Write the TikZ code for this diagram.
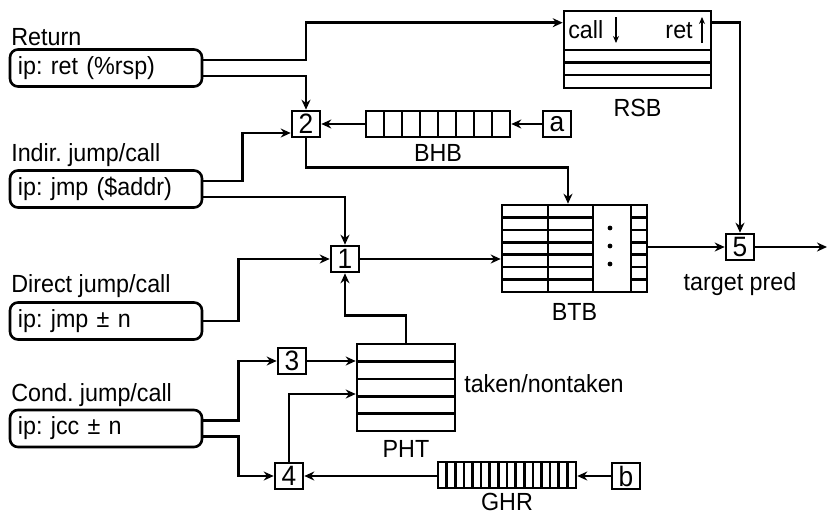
\documentclass[tikz,border=0pt]{standalone}
\usepackage{fontspec}
\setmainfont{Liberation Sans}[FakeStretch=0.94]
\usetikzlibrary{arrows.meta, positioning}
\frenchspacing

\begin{document}
\begin{tikzpicture}[
    x=0.5pt, y=-0.5pt,
    line width=1.3pt,
    every node/.style={font=\fontsize{12.4}{14}\selectfont},
    lbl/.style={inner sep=0pt},
    instr/.style={draw, rounded corners=4pt, text width=88pt, minimum height=18.5pt, inner xsep=4pt, inner ysep=0pt, align=left},
    num/.style={draw, minimum width=14pt, minimum height=13pt, inner sep=0pt, font=\fontsize{14}{14}\selectfont},
    buf/.style={draw, inner sep=0pt},
    ar/.style={-{Stealth[length=5pt, width=4.5pt]}},
    tick/.style={-{Stealth[length=3.5pt, width=3pt]}, line width=0.9pt}
]
\useasboundingbox (0,0) rectangle (827,515);

% instruction boxes
\node[instr] (ret) at (106,68) {ip: ret (\%rsp)};
\node[instr] (ind) at (106,189) {ip: jmp (\$addr)};
\node[instr] (dir) at (106,321) {ip: jmp ± n};
\node[instr] (cond) at (106,428.5) {ip: jcc ± n};
\node[lbl, anchor=base west] (retlbl) at (10,45) {Return};
\node[lbl, anchor=base west] (indlbl) at (10,161) {Indir. jump/call};
\node[lbl, anchor=base west] (dirlbl) at (10,292) {Direct jump/call};
\node[lbl, anchor=base west] (condlbl) at (10,401) {Cond. jump/call};

% small boxes
\node[num] (n2) at (306,124) {2};
\node[num] (n1) at (345,259) {1};
\node[num] (n3) at (292,361) {3};
\node[num] (n4) at (289,476) {4};
\node[num] (n5) at (740,247) {5};
\node[num] (na) at (557,124) {a};
\node[num] (nb) at (626,476) {b};
\coordinate (out) at (827,247);

% buffers
\node[buf, minimum width=72pt, minimum height=13pt] (bhb) at (438,124) {};
\foreach \x in {384,402,...,492} \draw (\x,111) -- (\x,137);
\node[lbl, below=2.5pt of bhb] (bhblbl) {BHB};

\node[buf, minimum width=73.5pt, minimum height=38.5pt] (rsb) at (637.5,49.5) {};
\foreach \y in {50,62.5,75} \draw (564,\y) -- (711,\y);
\node[lbl, anchor=base west] (call) at (567,38) {call};
\node[lbl, anchor=base east] (retw) at (694,38) {ret};
\draw[tick] (616,17) -- (616,43);
\draw[tick] (702,43) -- (702,17);
\node[lbl, below=4.5pt of rsb] (rsblbl) {RSB};

\node[buf, minimum width=72.5pt, minimum height=43.5pt] (btb) at (574.5,248.5) {};
\foreach \x in {548,593,631} \draw (\x,205) -- (\x,292);
\foreach \k in {1,...,6} {
  \draw (502,{205+87/7*\k}) -- (593,{205+87/7*\k});
  \draw (631,{205+87/7*\k}) -- (647,{205+87/7*\k});
}
\foreach \y in {228,246,264} \fill (610,\y) circle (1.2pt);
\node[lbl, below=4.5pt of btb] (btblbl) {BTB};
\node[lbl, below=5pt of n5] (predlbl) {target pred};

\node[buf, minimum width=49pt, minimum height=43.5pt] (pht) at (406,387.5) {};
\foreach \k in {1,...,4} \draw (357,{344+17.4*\k}) -- (455,{344+17.4*\k});
\node[lbl, below=3.5pt of pht] (phtlbl) {PHT};
\node[lbl, anchor=base west] (tnt) at (463,392) {taken/nontaken};

\node[buf, minimum width=69pt, minimum height=13pt] (ghr) at (507,475) {};
\foreach \k in {1,...,15} \draw ({438+8.625*\k},462) -- ({438+8.625*\k},488);
\node[lbl, below=1.5pt of ghr] (ghrlbl) {GHR};

% connectors
\draw[ar] ([yshift=4pt]ret.east) -| ([yshift=-6.5pt]rsb.north west -| n2.north) -- ([yshift=-6.5pt]rsb.north west);
\draw[ar] ([yshift=-4pt]ret.east) -| (n2.north);
\draw[ar] (na.west) -- (bhb.east);
\draw[ar] (bhb.west) -- (n2.east);
\draw[ar] ([yshift=4pt]ind.east) -- ++(39,0) |- ([yshift=-4.5pt]n2.west);
\draw[ar] ([yshift=-4pt]ind.east) -| (n1.north);
\draw[ar] (dir.east) -- ++(35,0) |- (n1.west);
\draw[ar] (n2.south) -- ++(0,29) -| ([xshift=-3.25pt]btb.north);
\draw[ar] (n1.east) -- (n1 -| btb.west);
\draw[ar] ([yshift=-6.5pt]rsb.north east) -| (n5.north);
\draw[ar] (n5 -| btb.east) -- (n5.west);
\draw[ar] (n5.east) -- (out);
\draw[ar] (pht.north) -- ++(0,-27) -| (n1.south);
\draw[ar] ([yshift=4pt]cond.east) -- ++(35,0) |- (n3.west);
\draw[ar] (n3.east) -- (n3 -| pht.west);
\draw[ar] ([yshift=-4pt]cond.east) -- ++(35,0) |- (n4.west);
\draw[ar] (n4.north) |- ([yshift=-3.25pt]pht.west);
\draw[ar] (ghr.west) -- (n4 -| ghr.west) -- (n4.east);
\draw[ar] (nb.west) -- (nb -| ghr.east);
\end{tikzpicture}
\end{document}
